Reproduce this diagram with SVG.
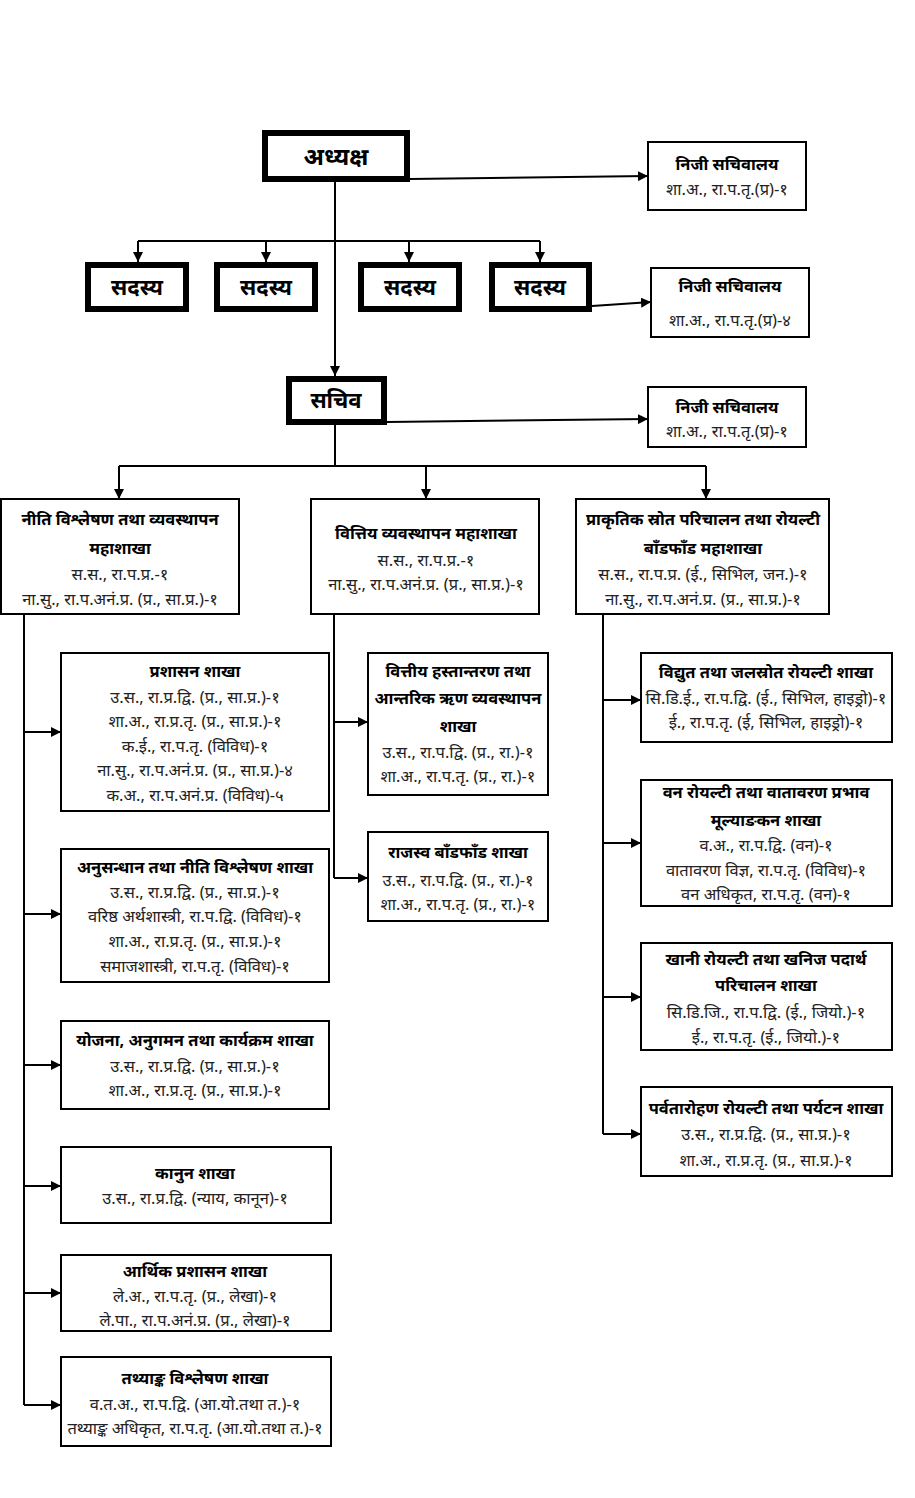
<svg xmlns="http://www.w3.org/2000/svg" width="915" height="1498" viewBox="0 0 915 1498">
<style>
text{font-family:"Noto Sans","DejaVu Sans",sans-serif;text-anchor:middle;fill:#000}
.t{font-size:16.5px;font-weight:bold}
.d{font-size:16.5px;fill:#222}
.big{font-size:22px;font-weight:bold}
.ad{font-size:24px;font-weight:bold}
.box{fill:#fff;stroke:#000;stroke-width:2}
.thick{fill:#fff;stroke:#000;stroke-width:6}
.ln{fill:none;stroke:#000;stroke-width:2}
</style>
<defs>
<marker id="ah" viewBox="0 0 10 10" refX="10" refY="5" markerWidth="5" markerHeight="5" orient="auto" markerUnits="strokeWidth">
<path d="M0,0 L10,5 L0,10 z" fill="#000"/>
</marker>
</defs>
<rect width="915" height="1498" fill="#fff"/>
<g id="connectors">
<path class="ln" d="M410,179 L648,176" marker-end="url(#ah)"/>
<path class="ln" d="M335,182 L335,376" marker-end="url(#ah)"/>
<path class="ln" d="M138,241 L540,241"/>
<path class="ln" d="M138,241 L138,262" marker-end="url(#ah)"/>
<path class="ln" d="M266,241 L266,262" marker-end="url(#ah)"/>
<path class="ln" d="M409,241 L409,262" marker-end="url(#ah)"/>
<path class="ln" d="M540,241 L540,262" marker-end="url(#ah)"/>
<path class="ln" d="M592,306 L651,302" marker-end="url(#ah)"/>
<path class="ln" d="M387,422 L648,419" marker-end="url(#ah)"/>
<path class="ln" d="M335,425 L335,466"/>
<path class="ln" d="M119,466 L706,466"/>
<path class="ln" d="M119,466 L119,499" marker-end="url(#ah)"/>
<path class="ln" d="M426,466 L426,499" marker-end="url(#ah)"/>
<path class="ln" d="M706,466 L706,499" marker-end="url(#ah)"/>
<path class="ln" d="M24,614 L24,1405"/>
<path class="ln" d="M24,732 L61,732" marker-end="url(#ah)"/>
<path class="ln" d="M24,914 L61,914" marker-end="url(#ah)"/>
<path class="ln" d="M24,1065 L61,1065" marker-end="url(#ah)"/>
<path class="ln" d="M24,1186 L61,1186" marker-end="url(#ah)"/>
<path class="ln" d="M24,1293 L61,1293" marker-end="url(#ah)"/>
<path class="ln" d="M24,1405 L61,1405" marker-end="url(#ah)"/>
<path class="ln" d="M334,614 L334,878"/>
<path class="ln" d="M334,722 L368,722" marker-end="url(#ah)"/>
<path class="ln" d="M334,878 L368,878" marker-end="url(#ah)"/>
<path class="ln" d="M603,614 L603,1134"/>
<path class="ln" d="M603,700 L641,700" marker-end="url(#ah)"/>
<path class="ln" d="M603,843 L641,843" marker-end="url(#ah)"/>
<path class="ln" d="M603,997 L641,997" marker-end="url(#ah)"/>
<path class="ln" d="M603,1134 L641,1134" marker-end="url(#ah)"/>
</g>
<g id="adhyaksha"><rect class="thick" x="265" y="133" width="142" height="46"/><text class="ad" x="336" y="165">अध्यक्ष</text></g>
<g id="nijee1"><rect class="box" x="648" y="142" width="158" height="68"/><text class="t" x="727" y="170">निजी सचिवालय</text><text class="d" x="727" y="195">शा.अ., रा.प.तृ.(प्र)-१</text></g>
<g id="sadasya1"><rect class="thick" x="88" y="265" width="98" height="44"/><text class="big" x="137" y="295">सदस्य</text></g>
<g id="sadasya2"><rect class="thick" x="217" y="265" width="98" height="44"/><text class="big" x="266" y="295">सदस्य</text></g>
<g id="sadasya3"><rect class="thick" x="361" y="265" width="98" height="44"/><text class="big" x="410" y="295">सदस्य</text></g>
<g id="sadasya4"><rect class="thick" x="492" y="265" width="97" height="44"/><text class="big" x="540" y="295">सदस्य</text></g>
<g id="nijee2"><rect class="box" x="651" y="268" width="158" height="69"/><text class="t" x="730" y="292">निजी सचिवालय</text><text class="d" x="730" y="326">शा.अ., रा.प.तृ.(प्र)-४</text></g>
<g id="sachiv"><rect class="thick" x="289" y="379" width="95" height="43"/><text class="big" x="336" y="408">सचिव</text></g>
<g id="nijee3"><rect class="box" x="648" y="387" width="158" height="60"/><text class="t" x="727" y="413">निजी सचिवालय</text><text class="d" x="727" y="437">शा.अ., रा.प.तृ.(प्र)-१</text></g>
<g id="mahashakha1"><rect class="box" x="1" y="499" width="238" height="115"/>
<text class="t" x="120" y="525">नीति विश्लेषण तथा व्यवस्थापन</text><text class="t" x="120" y="554">महाशाखा</text>
<text class="d" x="120" y="580">स.स., रा.प.प्र.-१</text><text class="d" x="120" y="605">ना.सु., रा.प.अनं.प्र. (प्र., सा.प्र.)-१</text></g>
<g id="mahashakha2"><rect class="box" x="311" y="499" width="228" height="115"/>
<text class="t" x="426" y="539">वित्तिय व्यवस्थापन महाशाखा</text>
<text class="d" x="426" y="566">स.स., रा.प.प्र.-१</text><text class="d" x="426" y="590">ना.सु., रा.प.अनं.प्र. (प्र., सा.प्र.)-१</text></g>
<g id="mahashakha3"><rect class="box" x="576" y="499" width="253" height="115"/>
<text class="t" x="703" y="525">प्राकृतिक स्रोत परिचालन तथा रोयल्टी</text><text class="t" x="703" y="554">बाँडफाँड महाशाखा</text>
<text class="d" x="703" y="580">स.स., रा.प.प्र. (ई., सिभिल, जन.)-१</text><text class="d" x="703" y="605">ना.सु., रा.प.अनं.प्र. (प्र., सा.प्र.)-१</text></g>
<g id="prashasan"><rect class="box" x="61" y="653" width="268" height="158"/>
<text class="t" x="195" y="677">प्रशासन शाखा</text>
<text class="d" x="195" y="703">उ.स., रा.प्र.द्वि. (प्र., सा.प्र.)-१</text>
<text class="d" x="195" y="727">शा.अ., रा.प्र.तृ. (प्र., सा.प्र.)-१</text>
<text class="d" x="195" y="752">क.ई., रा.प.तृ. (विविध)-१</text>
<text class="d" x="195" y="776">ना.सु., रा.प.अनं.प्र. (प्र., सा.प्र.)-४</text>
<text class="d" x="195" y="801">क.अ., रा.प.अनं.प्र. (विविध)-५</text></g>
<g id="anusandhan"><rect class="box" x="61" y="849" width="268" height="133"/>
<text class="t" x="195" y="873">अनुसन्धान तथा नीति विश्लेषण शाखा</text>
<text class="d" x="195" y="898">उ.स., रा.प्र.द्वि. (प्र., सा.प्र.)-१</text>
<text class="d" x="195" y="922">वरिष्ठ अर्थशास्त्री, रा.प.द्वि. (विविध)-१</text>
<text class="d" x="195" y="947">शा.अ., रा.प्र.तृ. (प्र., सा.प्र.)-१</text>
<text class="d" x="195" y="972">समाजशास्त्री, रा.प.तृ. (विविध)-१</text></g>
<g id="yojana"><rect class="box" x="61" y="1021" width="268" height="88"/>
<text class="t" x="195" y="1046">योजना, अनुगमन तथा कार्यक्रम शाखा</text>
<text class="d" x="195" y="1072">उ.स., रा.प्र.द्वि. (प्र., सा.प्र.)-१</text>
<text class="d" x="195" y="1096">शा.अ., रा.प्र.तृ. (प्र., सा.प्र.)-१</text></g>
<g id="kanun"><rect class="box" x="61" y="1147" width="270" height="76"/>
<text class="t" x="195" y="1179">कानुन शाखा</text>
<text class="d" x="195" y="1204">उ.स., रा.प्र.द्वि. (न्याय, कानून)-१</text></g>
<g id="arthik"><rect class="box" x="61" y="1255" width="270" height="76"/>
<text class="t" x="195" y="1277">आर्थिक प्रशासन शाखा</text>
<text class="d" x="195" y="1302">ले.अ., रा.प.तृ. (प्र., लेखा)-१</text>
<text class="d" x="195" y="1326">ले.पा., रा.प.अनं.प्र. (प्र., लेखा)-१</text></g>
<g id="tathyanka"><rect class="box" x="61" y="1357" width="270" height="89"/>
<text class="t" x="195" y="1384">तथ्याङ्क विश्लेषण शाखा</text>
<text class="d" x="195" y="1410">व.त.अ., रा.प.द्वि. (आ.यो.तथा त.)-१</text>
<text class="d" x="195" y="1434">तथ्याङ्क अधिकृत, रा.प.तृ. (आ.यो.तथा त.)-१</text></g>
<g id="hastantaran"><rect class="box" x="368" y="653" width="180" height="142"/>
<text class="t" x="458" y="677">वित्तीय हस्तान्तरण तथा</text>
<text class="t" x="458" y="704">आन्तरिक ऋण व्यवस्थापन</text>
<text class="t" x="458" y="732">शाखा</text>
<text class="d" x="458" y="758">उ.स., रा.प.द्वि. (प्र., रा.)-१</text>
<text class="d" x="458" y="782">शा.अ., रा.प.तृ. (प्र., रा.)-१</text></g>
<g id="rajaswa"><rect class="box" x="368" y="832" width="180" height="89"/>
<text class="t" x="458" y="858">राजस्व बाँडफाँड शाखा</text>
<text class="d" x="458" y="886">उ.स., रा.प.द्वि. (प्र., रा.)-१</text>
<text class="d" x="458" y="910">शा.अ., रा.प.तृ. (प्र., रा.)-१</text></g>
<g id="vidyut"><rect class="box" x="641" y="653" width="251" height="89"/>
<text class="t" x="766" y="678">विद्युत तथा जलस्रोत रोयल्टी शाखा</text>
<text class="d" x="766" y="704">सि.डि.ई., रा.प.द्वि. (ई., सिभिल, हाइड्रो)-१</text>
<text class="d" x="766" y="728">ई., रा.प.तृ. (ई, सिभिल, हाइड्रो)-१</text></g>
<g id="van"><rect class="box" x="641" y="780" width="251" height="126"/>
<text class="t" x="766" y="798">वन रोयल्टी तथा वातावरण प्रभाव</text>
<text class="t" x="766" y="826">मूल्याङकन शाखा</text>
<text class="d" x="766" y="851">व.अ., रा.प.द्वि. (वन)-१</text>
<text class="d" x="766" y="876">वातावरण विज्ञ, रा.प.तृ. (विविध)-१</text>
<text class="d" x="766" y="900">वन अधिकृत, रा.प.तृ. (वन)-१</text></g>
<g id="khani"><rect class="box" x="641" y="943" width="251" height="107"/>
<text class="t" x="766" y="965">खानी रोयल्टी तथा खनिज पदार्थ</text>
<text class="t" x="766" y="991">परिचालन शाखा</text>
<text class="d" x="766" y="1018">सि.डि.जि., रा.प.द्वि. (ई., जियो.)-१</text>
<text class="d" x="766" y="1043">ई., रा.प.तृ. (ई., जियो.)-१</text></g>
<g id="parvatarohan"><rect class="box" x="641" y="1087" width="251" height="89"/>
<text class="t" x="766" y="1114">पर्वतारोहण रोयल्टी तथा पर्यटन शाखा</text>
<text class="d" x="766" y="1140">उ.स., रा.प्र.द्वि. (प्र., सा.प्र.)-१</text>
<text class="d" x="766" y="1166">शा.अ., रा.प्र.तृ. (प्र., सा.प्र.)-१</text></g>
</svg>
